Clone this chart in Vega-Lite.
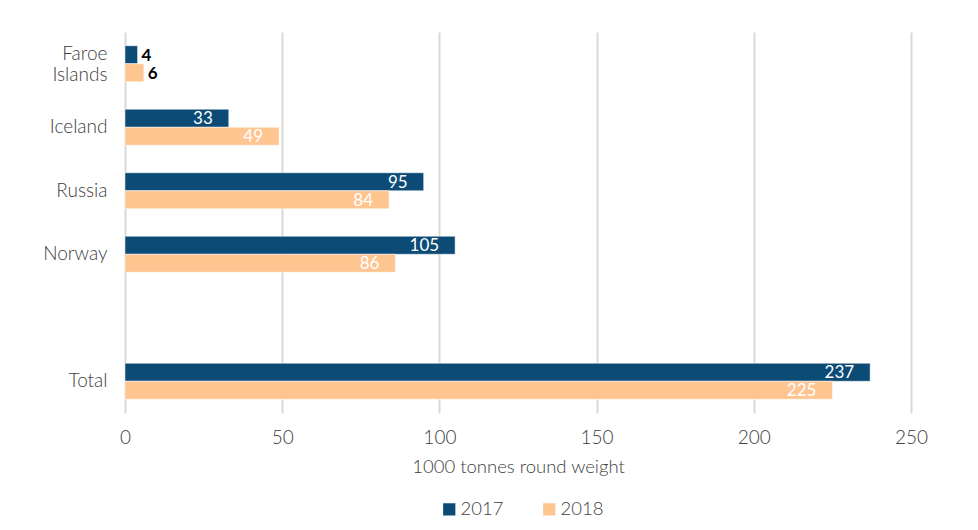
{
  "$schema": "https://vega.github.io/schema/vega-lite/v6.json",
  "autosize": {"type": "none"},
  "width": 786,
  "height": 381,
  "padding": {"left": 125, "top": 32, "right": 67, "bottom": 117},
  "background": "white",
  "data": {
    "values": [
      {"country": "Faroe Islands", "year": "2017", "value": 4},
      {"country": "Faroe Islands", "year": "2018", "value": 6},
      {"country": "Iceland", "year": "2017", "value": 33},
      {"country": "Iceland", "year": "2018", "value": 49},
      {"country": "Russia", "year": "2017", "value": 95},
      {"country": "Russia", "year": "2018", "value": 84},
      {"country": "Norway", "year": "2017", "value": 105},
      {"country": "Norway", "year": "2018", "value": 86},
      {"country": "Total", "year": "2017", "value": 237},
      {"country": "Total", "year": "2018", "value": 225}
    ]
  },
  "encoding": {
    "y": {
      "field": "country",
      "type": "nominal",
      "scale": {
        "domain": ["Faroe Islands", "Iceland", "Russia", "Norway", " ", "Total"],
        "paddingInner": 0.433,
        "paddingOuter": 0.2165
      },
      "axis": {
        "title": null,
        "domain": false,
        "ticks": false,
        "labelPadding": 18,
        "labelFontSize": 19,
        "labelColor": "#404040",
        "labelLineHeight": 21,
        "labelOffset": {"condition": {"test": "datum.value == 'Faroe Islands'", "value": -10}, "value": 0},
        "labelExpr": "datum.value == 'Faroe Islands' ? ['Faroe', 'Islands'] : datum.value"
      }
    },
    "yOffset": {"field": "year", "type": "nominal", "scale": {"domain": ["2017", "2018"], "paddingInner": 0, "paddingOuter": 0}},
    "x": {
      "field": "value",
      "type": "quantitative",
      "scale": {"domain": [0, 250], "nice": false},
      "axis": {
        "values": [0, 50, 100, 150, 200, 250],
        "title": "1000 tonnes round weight",
        "titleFontSize": 18.5,
        "titleFontWeight": 300,
        "titleColor": "#404040",
        "titlePadding": 10,
        "domain": false,
        "ticks": false,
        "labelFlush": false,
        "labelPadding": 15,
        "labelFontSize": 19,
        "labelColor": "#404040",
        "grid": true,
        "gridColor": "#d9d9d9",
        "gridWidth": 2
      }
    }
  },
  "layer": [
    {
      "mark": {"type": "bar", "stroke": "white", "strokeWidth": 0.5},
      "encoding": {
        "color": {
          "field": "year",
          "type": "nominal",
          "scale": {"domain": ["2017", "2018"], "range": ["#0D4B77", "#FFC591"]},
          "legend": {
            "title": null,
            "orient": "none",
            "legendX": 315,
            "legendY": 468,
            "direction": "horizontal",
            "symbolType": "square",
            "symbolSize": 150,
            "symbolStrokeWidth": 0,
            "labelFontSize": 18.5,
            "labelFontWeight": 300,
            "labelColor": "#404040",
            "labelOffset": 2,
            "columnPadding": 36
          }
        }
      }
    },
    {
      "transform": [{"filter": "datum.value >= 20"}],
      "mark": {"type": "text", "align": "right", "baseline": "middle", "dx": -16, "dy": 1, "color": "white", "fontSize": 17, "fontWeight": "normal"},
      "encoding": {"text": {"field": "value", "type": "quantitative"}}
    },
    {
      "transform": [{"filter": "datum.value < 20"}],
      "mark": {"type": "text", "align": "left", "baseline": "middle", "dx": 4, "dy": 1, "color": "black", "fontSize": 17, "fontWeight": "bold"},
      "encoding": {"text": {"field": "value", "type": "quantitative"}}
    }
  ],
  "config": {
    "font": "Lato",
    "axis": {"labelFontWeight": 300},
    "view": {"stroke": null}
  }
}
